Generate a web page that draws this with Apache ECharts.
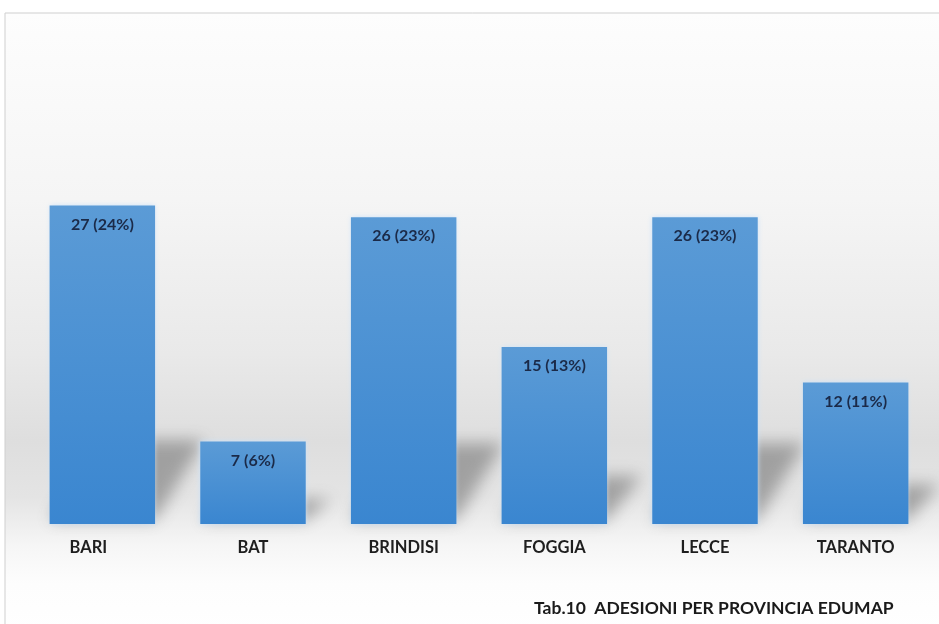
<!DOCTYPE html>
<html>
<head>
<meta charset="utf-8">
<script src="https://cdn.jsdelivr.net/npm/echarts@6/dist/echarts.min.js"></script>
<style>html,body{margin:0;padding:0;background:#fff}#c{width:939px;height:624px}</style>
</head>
<body>
<div id="c"></div>
<script>
const categories = ['BARI', 'BAT', 'BRINDISI', 'FOGGIA', 'LECCE', 'TARANTO'];
const counts = [27, 7, 26, 15, 26, 12];
const percents = [24, 6, 23, 13, 23, 11];
const titleText = 'Tab.10  ADESIONI PER PROVINCIA EDUMAP';

const chart = echarts.init(document.getElementById('c'), null, {renderer: 'canvas'});

const xData = categories.map(function (c, i) {
  return i === 0 ? {value: c, textStyle: {padding: [0, 28, 0, 0]}} : c;
});
const shadowData = counts.map(function (v, i) { return [i, v]; });

const OFF = 3000;

const option = {
  animation: false,
  backgroundColor: '#ffffff',
  graphic: [
    {
      type: 'rect', z: -10, silent: true,
      shape: {x: 5, y: 13, width: 940, height: 620},
      style: {
        fill: new echarts.graphic.LinearGradient(0, 0, 0, 1, [
          {offset: 0, color: '#fdfdfd'},
          {offset: 0.3, color: '#f5f5f5'},
          {offset: 0.55, color: '#e9e9e9'},
          {offset: 0.69, color: '#dedede'},
          {offset: 0.78, color: '#e4e4e4'},
          {offset: 0.86, color: '#f6f6f6'},
          {offset: 0.92, color: '#fdfdfd'},
          {offset: 1, color: '#ffffff'}
        ]),
        stroke: '#cfcfcf', lineWidth: 1
      }
    }
  ],
  title: {
    text: titleText,
    left: 529, top: 594,
    textStyle: {fontFamily: 'Lato', fontWeight: 'bold', fontSize: 17.5, color: '#1a1a1a'}
  },
  grid: {left: 27, right: 8, top: 170, bottom: 100},
  xAxis: {
    type: 'category',
    data: xData,
    axisLine: {show: false},
    axisTick: {show: false},
    axisLabel: {margin: 15, fontFamily: 'Lato', fontWeight: 'bold', fontSize: 16.5, color: '#1e1e1e'}
  },
  yAxis: {
    type: 'value', min: 0, max: 30, interval: 5, show: false,
    splitLine: {show: false}
  },
  series: [
    {
      type: 'custom',
      z: 1,
      silent: true,
      clip: false,
      data: shadowData,
      encode: {x: 0, y: 1},
      renderItem: function (params, api) {
        const idx = api.value(0);
        const v = api.value(1);
        const base = api.coord([idx, 0]);
        const top = api.coord([idx, v]);
        const w = api.size([1, 0])[0] * 0.7;
        const h = base[1] - top[1];
        const dx = 17 + 0.1 * h;
        const dy = 0.25 * h;
        const x0 = base[0] - w / 2 - OFF, x1 = base[0] + w / 2 - OFF, y0 = base[1] - 4;
        return {
          type: 'polygon',
          shape: {points: [[x0, y0], [x1, y0], [x1 + dx, y0 - dy], [x0 + dx, y0 - dy]]},
          style: {
            fill: '#000',
            shadowBlur: 16,
            shadowOffsetX: OFF,
            shadowOffsetY: 0,
            shadowColor: 'rgba(95,95,95,0.5)'
          }
        };
      }
    },
    {
      type: 'bar',
      z: 2,
      data: counts,
      barCategoryGap: '30%',
      itemStyle: {
        color: new echarts.graphic.LinearGradient(0, 0, 0, 1, [
          {offset: 0, color: '#5b9bd6'},
          {offset: 1, color: '#3a86d0'}
        ]),
        shadowBlur: 5, shadowColor: 'rgba(200,225,250,0.9)'
      },
      label: {
        show: true,
        position: 'insideTop',
        distance: 11,
        fontFamily: 'Lato', fontWeight: 'bold', fontSize: 16, color: '#1b2a48',
        formatter: function (p) { return counts[p.dataIndex] + ' (' + percents[p.dataIndex] + '%)'; }
      }
    }
  ]
};
chart.setOption(option);
</script>
</body>
</html>
